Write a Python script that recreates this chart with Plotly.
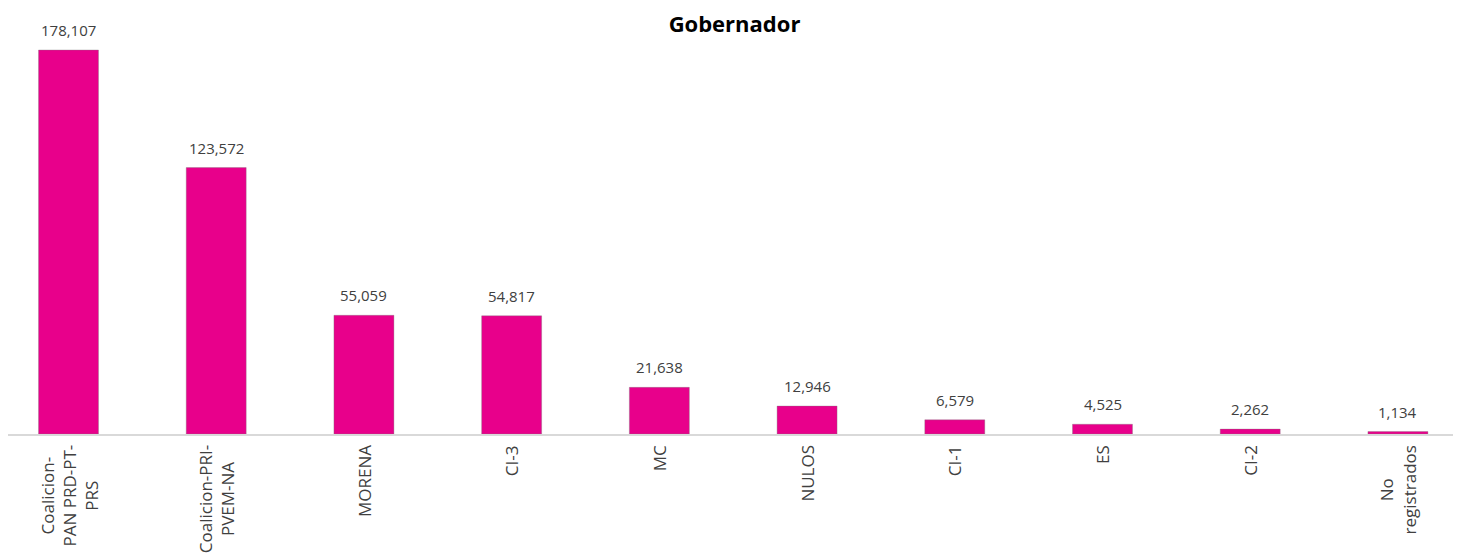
import plotly.graph_objects as go

categories = ["Coalicion-PAN PRD-PT-PRS", "Coalicion-PRI-PVEM-NA", "MORENA", "CI-3", "MC",
              "NULOS", "CI-1", "ES", "CI-2", "No registrados"]
tick_labels = ["Coalicion-<br>PAN PRD-PT-<br>PRS", "Coalicion-PRI-<br>PVEM-NA", "MORENA", "CI-3", "MC",
               "NULOS", "CI-1", "ES", "CI-2", "No<br>registrados"]
votes = [178107, 123572, 55059, 54817, 21638, 12946, 6579, 4525, 2262, 1134]

BAR_COLOR = "#E8008B"
TEXT_COLOR = "#404040"
FONT = "Open Sans"

fig = go.Figure()
fig.add_trace(go.Bar(
    x=categories, y=votes, width=0.406,
    marker=dict(color=BAR_COLOR, line=dict(color="rgba(120,120,120,0.35)", width=1)),
    hoverinfo="x+y",
))

annotations = []
for c, v in zip(categories, votes):
    annotations.append(dict(x=c, y=v, xref="x", yref="y", text=f"{v:,}", showarrow=False,
                            yanchor="bottom", yshift=8,
                            font=dict(family=FONT, size=15, color=TEXT_COLOR)))
for c, t in zip(categories, tick_labels):
    annotations.append(dict(x=c, y=0, xref="x", yref="y", text=t, showarrow=False,
                            yanchor="top", yshift=-9, textangle=-90, align="center",
                            font=dict(family=FONT, size=17, color=TEXT_COLOR)))

fig.update_layout(
    width=1453, height=552,
    margin=dict(l=0, r=0, t=32, b=126),
    plot_bgcolor="white", paper_bgcolor="white",
    title=dict(text="<b>Gobernador</b>", x=0.5, xanchor="center", y=1, yanchor="top",
               pad=dict(t=9, b=0),
               font=dict(family="Open Sans", size=22, color="#000000")),
    xaxis=dict(type="category", range=[-0.4096, 9.427], showticklabels=False,
               showline=True, linecolor="#D9D9D9", linewidth=2, ticks="", showgrid=False),
    yaxis=dict(range=[0, 182745], visible=False, showgrid=False),
    annotations=annotations,
    showlegend=False,
    bargap=0.6,
)

fig.write_html("out.html")
